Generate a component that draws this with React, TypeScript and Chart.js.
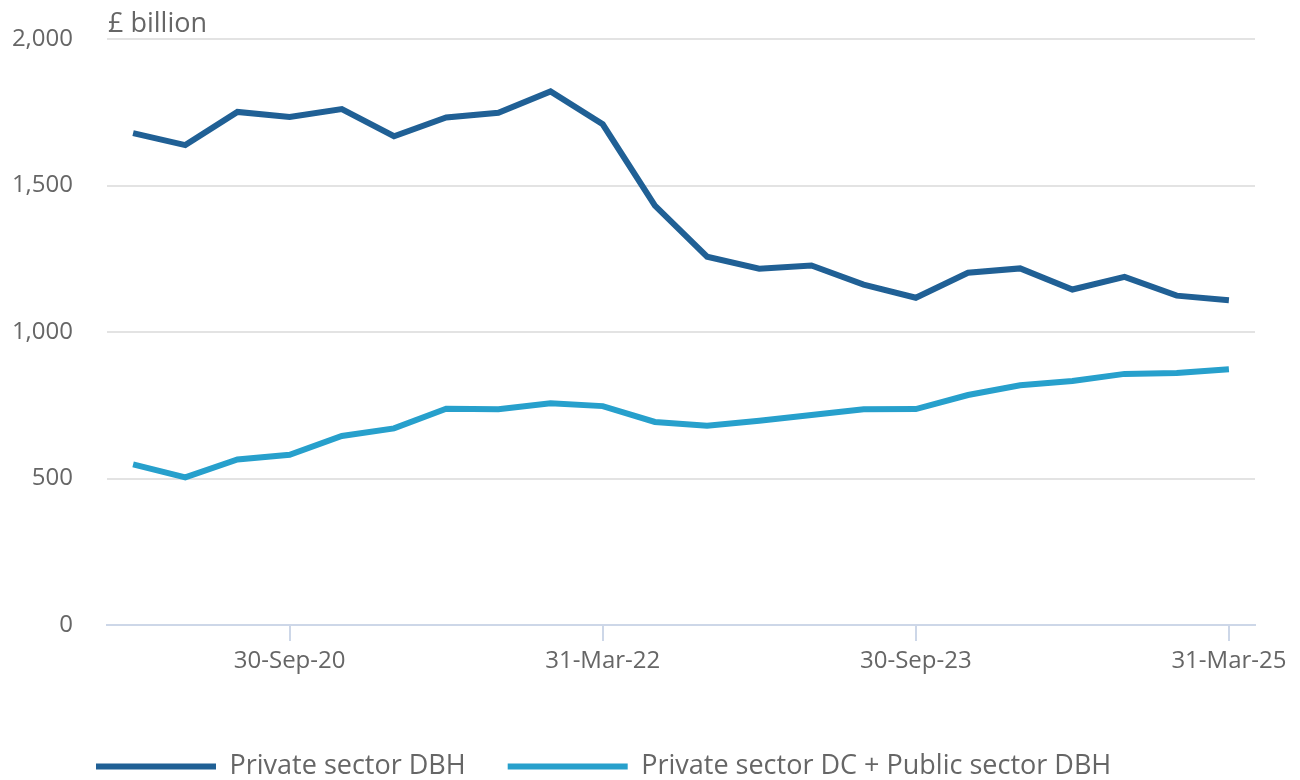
import React, { useEffect, useRef } from 'react';
import { Chart, registerables } from 'chart.js';

Chart.register(...registerables);

const CATEGORIES = [
  '31-Dec-19', '31-Mar-20', '30-Jun-20', '30-Sep-20', '31-Dec-20', '31-Mar-21',
  '30-Jun-21', '30-Sep-21', '31-Dec-21', '31-Mar-22', '30-Jun-22', '30-Sep-22',
  '31-Dec-22', '31-Mar-23', '30-Jun-23', '30-Sep-23', '31-Dec-23', '31-Mar-24',
  '30-Jun-24', '30-Sep-24', '31-Dec-24', '31-Mar-25',
];

const TICK_LABELS = ['30-Sep-20', '31-Mar-22', '30-Sep-23', '31-Mar-25'];

const PRIVATE_DBH = [
  1679, 1638, 1751, 1734, 1761, 1668, 1732, 1748, 1821, 1709, 1431, 1257,
  1216, 1227, 1162, 1117, 1202, 1217, 1145, 1188, 1124, 1108,
];

const DC_PUBLIC_DBH = [
  548, 504, 565, 581, 645, 671, 738, 736, 757, 747, 693, 680,
  697, 717, 736, 737, 785, 818, 833, 857, 860, 873,
];

const Y_TICKS = [0, 500, 1000, 1500, 2000];

const SERIES_NAMES = ['Private sector DBH', 'Private sector DC + Public sector DBH'];
const UNIT_LABEL = '£ billion';

const DARK = '#206095';
const LIGHT = '#27a0cc';
const TEXT = '#666666';
const GRID = '#e3e3e3';
const AXIS = '#cdd7e8';

const LEGEND_GAP = 42;

export default function App() {
  const ref = useRef<HTMLCanvasElement>(null);

  useEffect(() => {
    if (!ref.current) return;
    Chart.defaults.font.family = "'Open Sans', sans-serif";

    const unitPlugin = {
      id: 'unitLabel',
      afterLayout(chart: any) {
        const lg = chart.legend;
        if (lg) {
          lg.left = 96 - LEGEND_GAP;
          lg.right = 1300;
        }
      },
      afterDraw(chart: any) {
        const { ctx, chartArea } = chart;
        ctx.save();
        ctx.font = "27px 'Open Sans', sans-serif";
        ctx.fillStyle = TEXT;
        ctx.textAlign = 'left';
        ctx.textBaseline = 'alphabetic';
        ctx.fillText(UNIT_LABEL, chartArea.left + 1, 32);
        ctx.restore();
      },
    };

    const chart = new Chart(ref.current, {
      type: 'line',
      data: {
        labels: CATEGORIES,
        datasets: [
          {
            label: SERIES_NAMES[0],
            data: PRIVATE_DBH,
            borderColor: DARK,
            backgroundColor: DARK,
            borderWidth: 6,
            pointRadius: 0,
            tension: 0,
          },
          {
            label: SERIES_NAMES[1],
            data: DC_PUBLIC_DBH,
            borderColor: LIGHT,
            backgroundColor: LIGHT,
            borderWidth: 6,
            pointRadius: 0,
            tension: 0,
          },
        ],
      },
      options: {
        animation: false,
        responsive: false,
        maintainAspectRatio: false,
        layout: { padding: { left: 0, right: 45, top: 39, bottom: 0 } },
        plugins: {
          tooltip: { enabled: false },
          legend: {
            position: 'bottom',
            align: 'start',
            labels: {
              boxWidth: 120,
              boxHeight: 6,
              padding: LEGEND_GAP,
              color: TEXT,
              font: { size: 27 },
              generateLabels: (c: any) =>
                c.data.datasets.map((ds: any, i: number) => ({
                  text: ds.label,
                  fillStyle: ds.borderColor,
                  strokeStyle: ds.borderColor,
                  lineWidth: 0,
                  hidden: false,
                  datasetIndex: i,
                  fontColor: TEXT,
                })),
            },
          },
        },
        scales: {
          x: {
            type: 'category',
            offset: true,
            grid: {
              display: true,
              drawOnChartArea: false,
              drawTicks: true,
              tickLength: 16,
              color: AXIS,
              lineWidth: 2,
            },
            border: { display: true, color: AXIS, width: 2 },
            ticks: {
              autoSkip: false,
              maxRotation: 0,
              minRotation: 0,
              padding: 6,
              color: TEXT,
              font: { size: 24 },
            },
            afterBuildTicks: (scale: any) => {
              scale.ticks = scale.ticks.filter((t: any) => TICK_LABELS.includes(CATEGORIES[t.value]));
            },
            afterFit: (scale: any) => {
              scale.height = 86;
            },
          },
          y: {
            min: Y_TICKS[0],
            max: Y_TICKS[Y_TICKS.length - 1],
            ticks: {
              stepSize: 500,
              padding: 34,
              color: TEXT,
              font: { size: 24 },
            },
            afterBuildTicks: (scale: any) => {
              scale.ticks = Y_TICKS.map((v) => ({ value: v }));
            },
            grid: {
              drawTicks: false,
              color: (c: any) => (c.tick && c.tick.value === 0 ? 'rgba(0,0,0,0)' : GRID),
              lineWidth: 2,
            },
            border: { display: false },
            afterFit: (scale: any) => {
              scale.width = 107;
              scale.paddingTop = 0;
              scale.paddingBottom = 0;
            },
          },
        },
      },
      plugins: [unitPlugin],
    } as any);

    return () => chart.destroy();
  }, []);

  return (
    <div style={{ position: 'fixed', left: 0, top: 0, width: 1300, height: 780, background: '#ffffff', overflow: 'hidden' }}>
      <canvas ref={ref} width={1300} height={790} style={{ display: 'block' }} />
    </div>
  );
}
